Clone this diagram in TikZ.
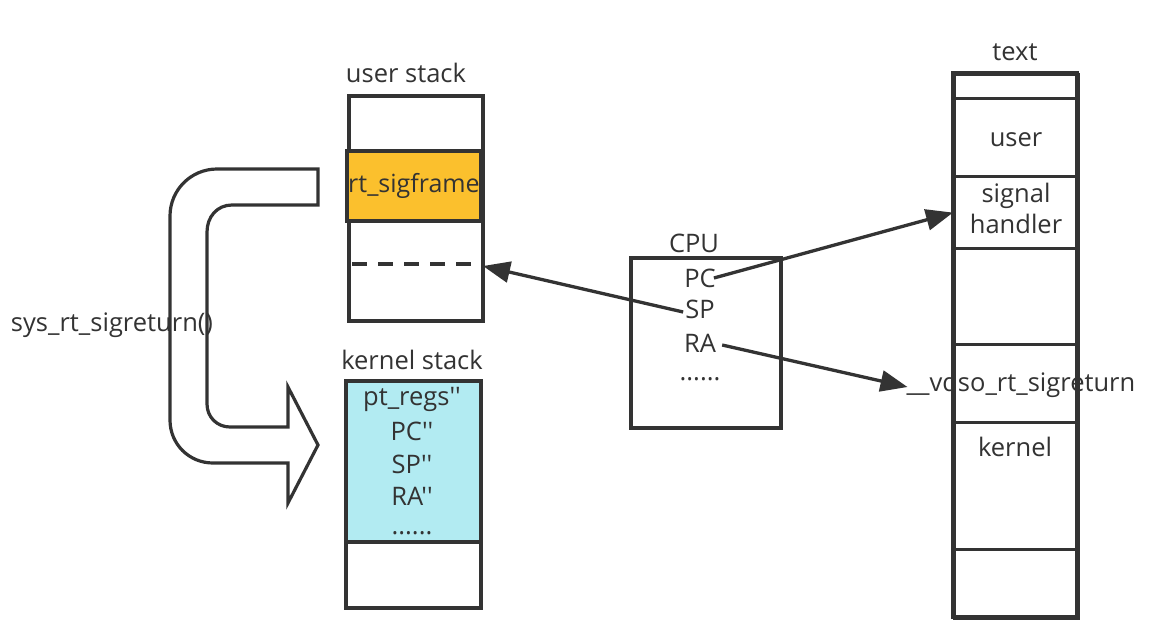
\documentclass[tikz,border=0pt]{standalone}
\usepackage{fontspec}
\setmainfont{Open Sans}[Ligatures=TeXOff]
\usetikzlibrary{arrows.meta}
\definecolor{ink}{HTML}{333333}
\definecolor{sigorange}{HTML}{FBC02D}
\definecolor{regblue}{HTML}{B2EBF2}
\begin{document}
\begin{tikzpicture}[x=1pt,y=-1pt,
  lbl/.style={text=ink, font=\fontsize{25.5}{30}\selectfont, inner sep=0pt},
  box/.style={draw=ink, line width=3.8pt, inner sep=0pt, text=ink, font=\fontsize{25}{30}\selectfont},
  cell/.style={draw=ink, line width=3.2pt, minimum width=124pt, inner sep=0pt, text=ink, font=\fontsize{25.5}{30}\selectfont},
  arr/.style={draw=ink, line width=3.3pt, -{Triangle[length=27pt,width=21pt]}}]
\fill[white] (0,0) rectangle (1155,642);
\useasboundingbox (0,0) rectangle (1155,642);

% ---------- user stack ----------
\node[lbl] (uslabel) at (406,73) {user stack};
\node[box, minimum width=134pt, minimum height=225pt, anchor=north west] (ustack) at (347,94) {};
\node[box, fill=sigorange, minimum width=134pt, minimum height=70pt] (sigframe) at (414,186) {rt\_sigframe};
\draw[ink, line width=3.8pt, dash pattern=on 15pt off 11pt] (352,264) -- (478,264);
\coordinate (dashend) at (483,266);

% ---------- kernel stack ----------
\node[lbl] (kslabel) at (412,360) {kernel stack};
\node[box, fill=regblue, minimum width=135pt, minimum height=161pt, anchor=north west] (regs) at (344,379) {};
\node[box, minimum width=135pt, minimum height=66pt, anchor=north west] (kbottom) at (344,540) {};
\node[lbl] (ptregs) at (412,399) {pt\_regs''};
\node[lbl] (pcpp) at (412,431) {PC''};
\node[lbl] (sppp) at (412,464) {SP''};
\node[lbl] (rapp) at (412,496) {RA''};
\node[lbl] (regdots) at (412,533) {......};

% ---------- CPU ----------
\node[lbl] (cpulabel) at (694,243) {CPU};
\node[box, minimum width=150pt, minimum height=170pt, anchor=north west] (cpu) at (629,256) {};
\node[lbl] (pc) at (700,278) {PC};
\node[lbl] (sp) at (700,309) {SP};
\node[lbl] (ra) at (700,343) {RA};
\node[lbl] (cpudots) at (700,379) {......};

% ---------- text segment ----------
\node[lbl] (textlabel) at (1015,52) {text};
\node[lbl] (vdso) at (1021,385) {\_\_vdso\_rt\_sigreturn};
\node[cell, minimum height=24pt, anchor=north west] (ctop) at (953,73) {};
\node[cell, minimum height=78pt, anchor=north west] (cuser) at (953,97) {};
\node[lbl] (userlabel) at (1016,140) {user};
\node[cell, minimum height=72pt, anchor=north west] (chandler) at (953,175) {};
\node[lbl, align=center, font=\fontsize{25.5}{31}\selectfont] (handlerlabel) at (1016,208) {signal\\handler};
\node[cell, minimum height=96pt, anchor=north west] (cempty) at (953,247) {};
\node[cell, minimum height=78pt, anchor=north west] (cvdso) at (953,343) {};
\node[cell, minimum height=127pt, anchor=north west] (ckernel) at (953,421) {};
\node[lbl] (kernellabel) at (1015,447) {kernel};
\node[cell, minimum height=69pt, anchor=north west] (cbottom) at (953,548) {};
\draw[ink, line width=4.2pt] (953,73) rectangle (1077,617);

% ---------- big curved arrow ----------
\draw[ink, line width=3.2pt, line join=miter]
  (318,169) -- (217,169) .. controls (191,169) and (170,190) .. (170,216)
  -- (170,420) .. controls (170,444) and (189,463) .. (213,463)
  -- (288,463) -- (288,503) -- (318,445) -- (288,387) -- (288,427)
  -- (230,427) .. controls (217,427) and (207,417) .. (207,404)
  -- (207,232) .. controls (207,217) and (217,205) .. (232,205)
  -- (318,205) -- cycle;
\node[lbl] (sysret) at (112,325) {sys\_rt\_sigreturn()};

% ---------- arrows ----------
\draw[arr] ([xshift=-2pt,yshift=-3pt]sp.west) -- (dashend);
\draw[arr] ([xshift=-2pt]pc.east) -- (chandler.west);
\draw[arr] ([xshift=6pt,yshift=-2pt]ra.east) -- ([xshift=1pt,yshift=-2pt]vdso.west);
\end{tikzpicture}
\end{document}
